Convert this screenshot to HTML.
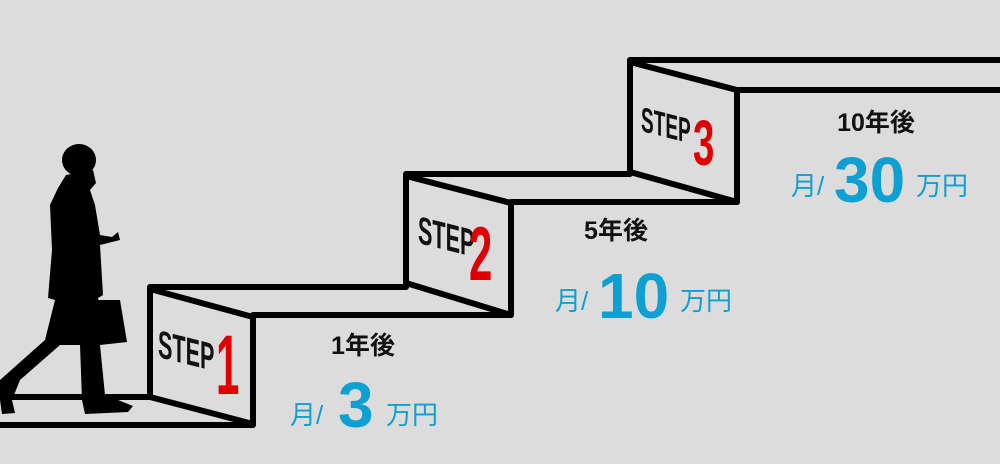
<!DOCTYPE html>
<html><head><meta charset="utf-8"><style>
html,body{margin:0;padding:0;background:#dcdcdc;}
svg{display:block;}
.y{font-family:"Liberation Sans","Noto Sans CJK JP",sans-serif;font-weight:bold;fill:#111;font-size:25px;text-anchor:middle;}
.b{font-family:"Liberation Sans","Noto Sans CJK JP",sans-serif;fill:#0ea0d2;}
.st{font-family:"Liberation Sans",sans-serif;font-weight:bold;fill:#111;}
.r{font-family:"Liberation Sans",sans-serif;font-weight:bold;fill:#e00000;}
</style></head><body>
<svg width="1000" height="464" viewBox="0 0 1000 464" xmlns="http://www.w3.org/2000/svg">
<rect width="1000" height="464" fill="#dcdcdc"/>
<g fill="none" stroke="#000" stroke-width="6" stroke-linejoin="round" stroke-linecap="round">
<path d="M0 397 H150"/>
<path d="M0 425 H253"/>
<path d="M150 397 V287 H406"/>
<path d="M150 289 L253 317 V424 L150 397"/>
<path d="M253 315 H511"/>
<path d="M406 285 V174 H630"/>
<path d="M406 176 L511 203 V315 L406 283"/>
<path d="M511 202 H737"/>
<path d="M630 172 V60 H1000"/>
<path d="M630 62 L737 90 V202 L630 172"/>
<path d="M737 90 H1000"/>
</g>
<!-- STEP labels -->
<g transform="translate(158,357) skewY(14) scale(0.72,1.3)"><text class="st" font-size="30">STEP</text></g>
<g transform="translate(216,394) scale(0.5,1)"><text class="r" font-size="84">1</text></g>
<g transform="translate(418,243) skewY(14) scale(0.72,1.3)"><text class="st" font-size="30">STEP</text></g>
<g transform="translate(469,280) scale(0.55,1)"><text class="r" font-size="76">2</text></g>
<g transform="translate(641,131) skewY(14) scale(0.68,1.25)"><text class="st" font-size="28">STEP</text></g>
<g transform="translate(693,165) scale(0.6,1)"><text class="r" font-size="64">3</text></g>
<!-- year labels -->
<text class="y" x="363" y="354">1年後</text>
<text class="y" x="616" y="239">5年後</text>
<text class="y" x="876" y="131">10年後</text>
<!-- amounts -->
<text class="b" x="290" y="424" font-size="26">月/</text>
<text class="b" x="338" y="427" font-size="64" font-weight="bold">3</text>
<text class="b" x="386" y="424" font-size="26">万円</text>
<text class="b" x="555" y="310" font-size="26">月/</text>
<text class="b" x="598" y="318" font-size="64" font-weight="bold">10</text>
<text class="b" x="680" y="310" font-size="26">万円</text>
<text class="b" x="791" y="195" font-size="26">月/</text>
<text class="b" x="834" y="202" font-size="64" font-weight="bold">30</text>
<text class="b" x="916" y="195" font-size="26">万円</text>
<!-- silhouette -->
<g fill="#000">
<ellipse cx="79" cy="160" rx="17" ry="16"/>
<path d="M66 175 L93 170 L96 183 L90 190 L95 205 L100 235 L112 237 L118 232 L120 240 L100 245 L103 295 L98 298 L103 335 L100 345 L105 395 L118 400 L133 406 L128 412 L85 414 L82 400 L80 345 L60 345 L20 380 L12 400 L15 413 L2 414 L0 400 L0 380 L45 340 L55 300 L48 298 L52 250 L50 205 L58 188 Z"/>
<path d="M98 300 L120 300 L127 342 L100 345 Z"/>
</g>
</svg>
</body></html>
